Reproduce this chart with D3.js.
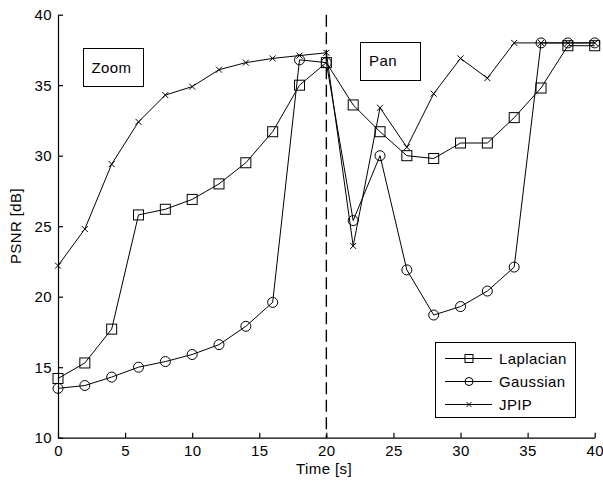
<!DOCTYPE html>
<html><head><meta charset="utf-8">
<script src="https://cdn.jsdelivr.net/npm/d3@7/dist/d3.min.js"></script>
<style>body{margin:0;background:#fff}svg{display:block}text{font-family:"Liberation Sans",Arial,sans-serif;fill:#000}</style>
</head><body><svg id="c" width="603" height="483"></svg>
<script>
const times = [0,2,4,6,8,10,12,14,16,18,20,22,24,26,28,30,32,34,36,38,40];
const laplacian = [14.2,15.3,17.7,25.8,26.2,26.9,28.0,29.5,31.7,35.0,36.6,33.6,31.7,30.0,29.8,30.9,30.9,32.7,34.8,37.8,37.8];
const gaussian = [13.5,13.7,14.3,15.0,15.4,15.9,16.6,17.9,19.6,36.8,36.6,25.4,30.0,21.9,18.7,19.3,20.4,22.1,38.0,38.0,38.0];
const jpip = [22.2,24.8,29.4,32.4,34.3,34.9,36.1,36.6,36.9,37.1,37.3,23.6,33.4,30.6,34.4,36.9,35.5,38.0,38.0,38.0,38.0];
const seriesNames = ["Laplacian","Gaussian","JPIP"];
const xTicks = [0,5,10,15,20,25,30,35,40];
const yTicks = [10,15,20,25,30,35,40];
const markerLine = 20;

const FS = 15, LS = "0.4px";
const svg = d3.select("#c");
const x = d3.scaleLinear().domain([0,40]).range([58,594.7]);
const y = d3.scaleLinear().domain([10,40]).range([437.7,14.7]);

// axes
const xa = svg.append("g").attr("transform",`translate(0,${y(10)})`)
  .call(d3.axisBottom(x).tickValues(xTicks).tickSizeInner(-5).tickSizeOuter(0).tickPadding(8));
const ya = svg.append("g").attr("transform",`translate(${x(0)},0)`)
  .call(d3.axisLeft(y).tickValues(yTicks).tickSizeInner(-5).tickSizeOuter(0).tickPadding(6));
[xa,ya].forEach(a=>{a.selectAll("path,line").attr("stroke","#000").attr("stroke-width",1.2);
  a.selectAll("text").attr("font-size",FS).attr("letter-spacing",LS).attr("font-family",'"Liberation Sans",Arial,sans-serif').attr("fill","#000");});

// dashed line
svg.append("line").attr("x1",x(markerLine)).attr("x2",x(markerLine)).attr("y1",y(40)).attr("y2",y(10))
  .attr("stroke","#000").attr("stroke-width",1.4).attr("stroke-dasharray","12,5.5");

const line = d3.line().x((d,i)=>x(times[i])).y(d=>y(d));
const data = [laplacian,gaussian,jpip];
const kinds = ["square","circle","x"];
function marker(g,kind,cx,cy,sc){
  sc = sc||1;
  if(kind==="square") g.append("rect").attr("x",cx-5*sc).attr("y",cy-5*sc).attr("width",10*sc).attr("height",10*sc).attr("fill","none").attr("stroke","#000").attr("stroke-width",1);
  else if(kind==="circle") g.append("circle").attr("cx",cx).attr("cy",cy).attr("r",5*sc).attr("fill","none").attr("stroke","#000").attr("stroke-width",1);
  else g.append("path").attr("d",`M${cx-3*sc},${cy-3*sc}L${cx+3*sc},${cy+3*sc}M${cx-3*sc},${cy+3*sc}L${cx+3*sc},${cy-3*sc}`).attr("stroke","#000").attr("stroke-width",1);
}
data.forEach((s,k)=>{
  svg.append("path").attr("d",line(s)).attr("fill","none").attr("stroke","#000").attr("stroke-width",1);
  const g = svg.append("g");
  s.forEach((v,i)=>marker(g,kinds[k],x(times[i]),y(v)));
});

// annotation boxes
svg.append("rect").attr("x",83.5).attr("y",48.5).attr("width",60).attr("height",38).attr("fill","#fff").attr("stroke","#000");
svg.append("text").attr("x",91.5).attr("y",72.5).attr("font-size",FS).attr("letter-spacing",LS).text("Zoom");
svg.append("rect").attr("x",360.5).attr("y",42.5).attr("width",60).attr("height",38).attr("fill","#fff").attr("stroke","#000");
svg.append("text").attr("x",369).attr("y",66).attr("font-size",FS).attr("letter-spacing",LS).text("Pan");

// legend
const lg = svg.append("g");
lg.append("rect").attr("x",435.5).attr("y",342.5).attr("width",140).attr("height",75).attr("fill","#fff").attr("stroke","#000");
seriesNames.forEach((n,k)=>{
  const ly = 358.5 + k*23;
  lg.append("line").attr("x1",445).attr("x2",492).attr("y1",ly).attr("y2",ly).attr("stroke","#000");
  marker(lg,kinds[k],469,ly,0.8);
  lg.append("text").attr("x",499).attr("y",ly+5.5).attr("font-size",FS).attr("letter-spacing",LS).text(n);
});

// axis labels
svg.append("text").attr("x",324).attr("y",474).attr("text-anchor","middle").attr("font-size",FS).attr("letter-spacing",LS).text("Time [s]");
svg.append("text").attr("transform","translate(21,226) rotate(-90)").attr("text-anchor","middle").attr("font-size",FS).attr("letter-spacing",LS).text("PSNR [dB]");
</script></body></html>
